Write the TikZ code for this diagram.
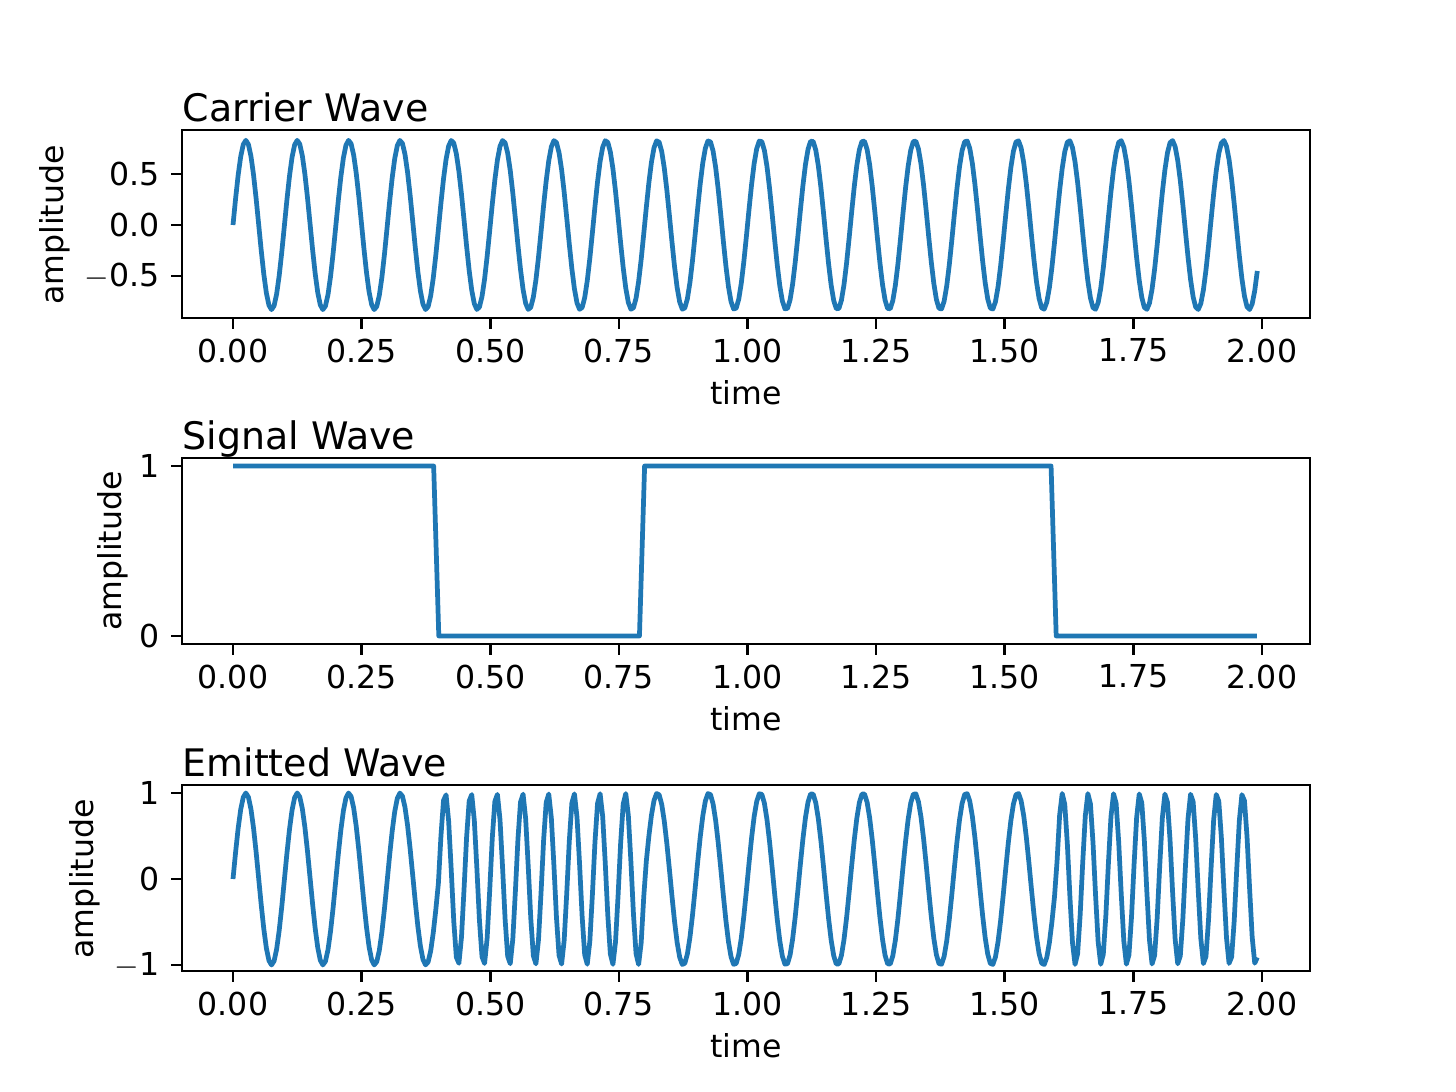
\documentclass[tikz,border=0pt]{standalone}
\usepackage{fontspec}
\setmainfont{DejaVu Sans}
\definecolor{tabblue}{HTML}{1F77B4}
\begin{document}
\begin{tikzpicture}[x=0.3165pt,y=-0.3165pt,
  frame/.style={line width=0.8pt,black},
  curve/.style={line width=1.5pt,tabblue,line join=round},
  tick/.style={line width=0.8pt},
  ticklbl/.style={font=\fontsize{10}{12}\selectfont,inner sep=0pt},
  ttl/.style={font=\fontsize{12}{14}\selectfont,inner sep=0pt,anchor=base west},
  declare function={sig(\t)=ifthenelse(\t<0.4,1,ifthenelse(\t<0.8,0,ifthenelse(\t<1.6,1,0)));}]
\useasboundingbox[fill=white] (0,0) rectangle (1456,1092);
% ---------- axes frames ----------
\foreach \top/\bot/\nm in {130/318/A,458/644/B,785/971/C}{
  \draw[frame] (182,\top) rectangle (1310,\bot);
  \foreach \k/\l in {0/0.00,1/0.25,2/0.50,3/0.75,4/1.00,5/1.25,6/1.50,7/1.75,8/2.00}{
    \draw[tick] ({233+128.625*\k},\bot) -- ++(0,11);
    \node[ticklbl,anchor=north] (xt\nm\k) at ({233+128.625*\k},\bot+20) {\l};
  }
  \node[ticklbl,anchor=north] (xl\nm) at (746,\bot+62) {time};
}
% ---------- carrier ----------
\node[ttl] (t1) at (182,122) {Carrier Wave};
\foreach \v/\l in {0.5/0.5,0/0.0,-0.5/$-$0.5}{
  \draw[tick] (182,{225-102*\v}) -- ++(-11,0);
  \node[ticklbl,anchor=east] at (160,{225-102*\v}) {\l};
}
\node[ticklbl,rotate=90] (y1) at (55,225) {amplitude};
\draw[curve] plot[domain=0:1.995,samples=400] ({233+514.5*\x},{225-102*0.83*sin(3600*\x)});
% ---------- signal ----------
\node[ttl] (t2) at (182,450) {Signal Wave};
\foreach \v in {1,0}{
  \draw[tick] (182,{636-170*\v}) -- ++(-11,0);
  \node[ticklbl,anchor=east] at (160,{636-170*\v}) {\v};
}
\node[ticklbl,rotate=90] (y2) at (113,551) {amplitude};
\draw[curve] ({233},466) -- ({233+514.5*0.39},466) -- ({233+514.5*0.40},636) -- ({233+514.5*0.79},636)
 -- ({233+514.5*0.80},466) -- ({233+514.5*1.59},466) -- ({233+514.5*1.60},636) -- ({233+514.5*1.99},636);
% ---------- emitted ----------
\node[ttl] (t3) at (182,777) {Emitted Wave};
\foreach \v/\l in {1/1,0/0,-1/$-$1}{
  \draw[tick] (182,{879-86*\v}) -- ++(-11,0);
  \node[ticklbl,anchor=east] at (160,{879-86*\v}) {\l};
}
\node[ticklbl,rotate=90] (y3) at (85,879) {amplitude};
\draw[curve] plot[domain=0:1.995,samples=400] ({233+514.5*\x},{879-86*sin((7200-3600*sig(\x))*\x)});
\end{tikzpicture}
\end{document}
